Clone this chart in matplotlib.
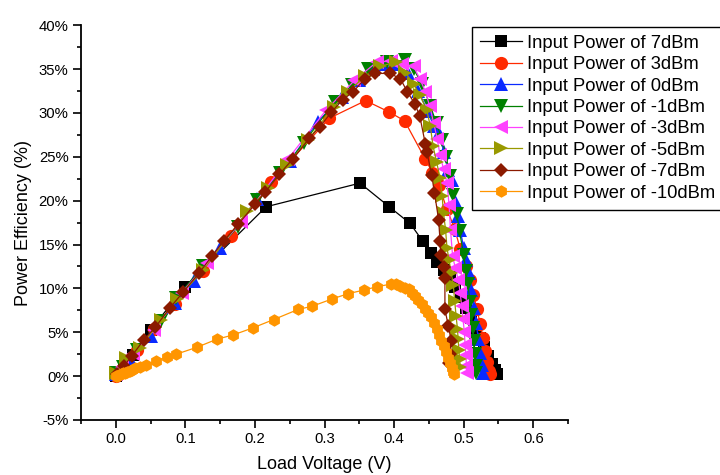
import matplotlib
matplotlib.use("Agg")
import matplotlib.pyplot as plt
from matplotlib.ticker import MultipleLocator, FuncFormatter

plt.rcParams['font.family'] = ['Liberation Sans', 'DejaVu Sans']

labels = ["Input Power of 7dBm", "Input Power of 3dBm", "Input Power of 0dBm",
          "Input Power of -1dBm", "Input Power of -3dBm", "Input Power of -5dBm",
          "Input Power of -7dBm", "Input Power of -10dBm"]

x_7 = [0.0, 0.005, 0.012, 0.025, 0.05, 0.1, 0.216, 0.351, 0.393, 0.423, 0.441, 0.453, 0.462,
       0.471, 0.480, 0.488, 0.496, 0.503, 0.510, 0.517, 0.523, 0.529, 0.535, 0.540, 0.545, 0.548]
y_7 = [0.0, 0.4, 1.1, 2.4, 5.3, 10.2, 19.3, 22.0, 19.3, 17.4, 15.4, 14.0, 13.0,
       12.1, 11.3, 10.2, 9.0, 7.8, 6.6, 5.4, 4.3, 3.3, 2.3, 1.4, 0.7, 0.2]

x_3 = [0.0, 0.006, 0.015, 0.03, 0.055, 0.085, 0.125, 0.165, 0.223, 0.307, 0.359, 0.393, 0.415,
       0.445, 0.455, 0.464, 0.476, 0.487, 0.495, 0.503, 0.509, 0.514, 0.519, 0.524, 0.528,
       0.531, 0.534, 0.536, 0.538]
y_3 = [0.0, 0.6, 1.5, 3.0, 5.4, 8.2, 12.0, 16.0, 22.1, 29.4, 31.4, 30.1, 29.1,
       24.7, 23.2, 21.8, 19.0, 16.8, 14.5, 12.6, 11.0, 9.3, 7.6, 5.9, 4.3,
       2.9, 1.6, 0.6, 0.2]

x_0 = [0.0, 0.008, 0.02, 0.05, 0.085, 0.112, 0.15, 0.203, 0.25, 0.29, 0.325, 0.35, 0.37, 0.385,
       0.40, 0.42, 0.435, 0.448, 0.457, 0.464, 0.472, 0.478, 0.483, 0.488, 0.492, 0.495, 0.500,
       0.504, 0.507, 0.511, 0.515, 0.518, 0.521, 0.524, 0.526, 0.528]
y_0 = [0.2, 0.9, 2.0, 4.6, 8.3, 10.8, 14.6, 20.2, 24.5, 29.0, 31.8, 33.8, 35.0, 35.6,
       35.6, 34.6, 32.5, 30.2, 28.5, 27.7, 25.5, 23.5, 22.4, 20.0, 18.2, 16.7, 14.6,
       13.2, 11.8, 9.8, 7.8, 6.0, 4.2, 2.6, 1.3, 0.3]

x_m1 = [0.0, 0.011, 0.03, 0.065, 0.087, 0.125, 0.175, 0.203, 0.236, 0.27, 0.315, 0.34, 0.362,
        0.39, 0.416, 0.428, 0.44, 0.452, 0.461, 0.469, 0.475, 0.480, 0.485, 0.490, 0.494,
        0.500, 0.503, 0.506, 0.509, 0.511, 0.513, 0.515, 0.516, 0.517, 0.518]
y_m1 = [0.3, 1.0, 3.0, 6.3, 8.9, 12.5, 17.0, 20.1, 23.1, 26.6, 31.3, 33.2, 35.0,
        35.8, 36.0, 35.0, 33.3, 30.8, 28.8, 26.9, 25.0, 22.8, 20.7, 18.5, 16.5,
        13.8, 12.0, 10.5, 8.5, 7.0, 5.5, 4.0, 2.5, 1.2, 0.3]

x_m3 = [0.0, 0.009, 0.025, 0.055, 0.095, 0.131, 0.18, 0.247, 0.302, 0.343, 0.375, 0.395, 0.412,
        0.428, 0.437, 0.445, 0.451, 0.457, 0.462, 0.466, 0.471, 0.476, 0.479, 0.481, 0.484,
        0.488, 0.492, 0.495, 0.497, 0.499, 0.501, 0.502, 0.503, 0.504, 0.505]
y_m3 = [0.2, 1.0, 2.5, 5.3, 9.5, 12.9, 17.6, 24.7, 30.3, 33.7, 35.8, 35.9, 35.6,
        35.3, 33.9, 32.4, 30.8, 28.8, 27.0, 25.2, 23.6, 22.0, 19.5, 16.7, 13.7,
        12.3, 11.0, 9.5, 8.0, 6.5, 5.0, 3.6, 2.4, 1.2, 0.3]

x_m5 = [0.0, 0.014, 0.035, 0.065, 0.088, 0.126, 0.189, 0.219, 0.246, 0.276, 0.313, 0.334, 0.358,
        0.38, 0.402, 0.416, 0.428, 0.437, 0.447, 0.452, 0.456, 0.461, 0.466, 0.469, 0.471,
        0.474, 0.476, 0.479, 0.482, 0.485, 0.487, 0.489, 0.491, 0.492, 0.493, 0.494, 0.495]
y_m5 = [0.4, 2.1, 3.2, 6.4, 8.8, 12.1, 18.8, 21.4, 24.1, 26.9, 30.7, 32.4, 34.2,
        35.3, 35.8, 34.6, 33.3, 32.0, 30.3, 28.5, 26.2, 24.4, 22.6, 20.5, 18.6,
        16.6, 14.6, 13.2, 11.8, 10.4, 8.6, 6.9, 5.4, 4.2, 3.0, 2.0, 1.0]

x_m7 = [0.002, 0.012, 0.023, 0.040, 0.057, 0.078, 0.097, 0.120, 0.138, 0.155, 0.176, 0.200,
        0.215, 0.235, 0.255, 0.278, 0.293, 0.310, 0.326, 0.341, 0.358, 0.373, 0.394, 0.409,
        0.419, 0.430, 0.437, 0.445, 0.447, 0.454, 0.458, 0.464, 0.466, 0.467, 0.471, 0.473,
        0.473, 0.478, 0.482, 0.480, 0.479]
y_m7 = [0.2, 1.2, 2.3, 4.1, 5.6, 7.8, 9.6, 11.8, 13.65, 15.4, 17.3, 19.6,
        21.0, 23.0, 24.8, 27.1, 28.4, 30.1, 31.5, 32.4, 33.9, 34.5, 34.5, 33.9,
        32.4, 31.0, 29.6, 26.4, 25.6, 22.9, 20.9, 17.8, 15.4, 13.8, 12.4, 11.2,
        7.6, 5.7, 4.0, 2.5, 1.5]

x_m10 = [0.0, 0.002, 0.004, 0.007, 0.010, 0.013, 0.016, 0.020, 0.024, 0.028, 0.035, 0.043,
         0.058, 0.073, 0.087, 0.117, 0.145, 0.169, 0.197, 0.227, 0.262, 0.282, 0.311, 0.334,
         0.356, 0.376, 0.396, 0.403, 0.409, 0.415, 0.421, 0.426, 0.430, 0.435, 0.440, 0.445,
         0.449, 0.453, 0.457, 0.461, 0.464, 0.468, 0.471, 0.475, 0.478, 0.481, 0.483, 0.485, 0.486]
y_m10 = [0.0, 0.05, 0.1, 0.2, 0.3, 0.4, 0.5, 0.6, 0.75, 0.9, 1.05, 1.25,
         1.75, 2.15, 2.5, 3.3, 4.2, 4.7, 5.5, 6.45, 7.6, 7.96, 8.8, 9.4,
         9.8, 10.2, 10.5, 10.45, 10.3, 10.1, 9.9, 9.5, 9.1, 8.7, 8.2, 7.7,
         7.2, 6.7, 6.1, 5.4, 4.7, 4.0, 3.4, 2.7, 2.1, 1.5, 0.95, 0.5, 0.2]

xs = [x_7, x_3, x_0, x_m1, x_m3, x_m5, x_m7, x_m10]
ys = [y_7, y_3, y_0, y_m1, y_m3, y_m5, y_m7, y_m10]
colors = ['#000000', '#ff2a00', '#0a2aff', '#008000', '#ff40ff', '#999900', '#8b1a00', '#ff9500']
markers = ['s', 'o', '^', 'v', '<', '>', 'D', 'h']
msizes = [8, 9.5, 10.5, 10.5, 10.5, 10.5, 7.3, 9]

fig = plt.figure(figsize=(7.2, 4.75), dpi=100)
ax = fig.add_axes([0.1125, 0.1158, 0.6765, 0.8312])

for x, y, c, m, ms, lab in zip(xs, ys, colors, markers, msizes, labels):
    ax.plot(x, y, color=c, marker=m, markersize=ms, linewidth=0.9,
            markeredgewidth=0, label=lab)

ax.set_xlim(-0.05, 0.65)
ax.set_ylim(-5, 40)
ax.xaxis.set_major_locator(MultipleLocator(0.1))
ax.xaxis.set_minor_locator(MultipleLocator(0.05))
ax.yaxis.set_major_locator(MultipleLocator(5))
ax.yaxis.set_minor_locator(MultipleLocator(2.5))
ax.xaxis.set_major_formatter(FuncFormatter(lambda v, p: f"{v:.1f}"))
ax.yaxis.set_major_formatter(FuncFormatter(lambda v, p: f"{v:.0f}%"))

for s in ['top', 'right']:
    ax.spines[s].set_visible(False)
for s in ['left', 'bottom']:
    ax.spines[s].set_linewidth(1.3)
ax.tick_params(which='major', direction='out', length=5.5, width=1.2, labelsize=10.7)
ax.tick_params(which='minor', direction='out', length=3, width=1.2)

ax.set_xlabel("Load Voltage (V)", fontsize=13, labelpad=7)
ax.set_ylabel("Power Efficiency (%)", fontsize=13, labelpad=5)

leg = fig.legend(loc='upper left', bbox_to_anchor=(0.655, 0.944), fontsize=13.2,
                 frameon=True, fancybox=False, edgecolor='black', framealpha=1,
                 handlelength=2.3, handletextpad=0.25, labelspacing=0.24,
                 borderpad=0.45, borderaxespad=0)
leg.get_frame().set_linewidth(1.0)

fig.savefig("out.png", dpi=100)
